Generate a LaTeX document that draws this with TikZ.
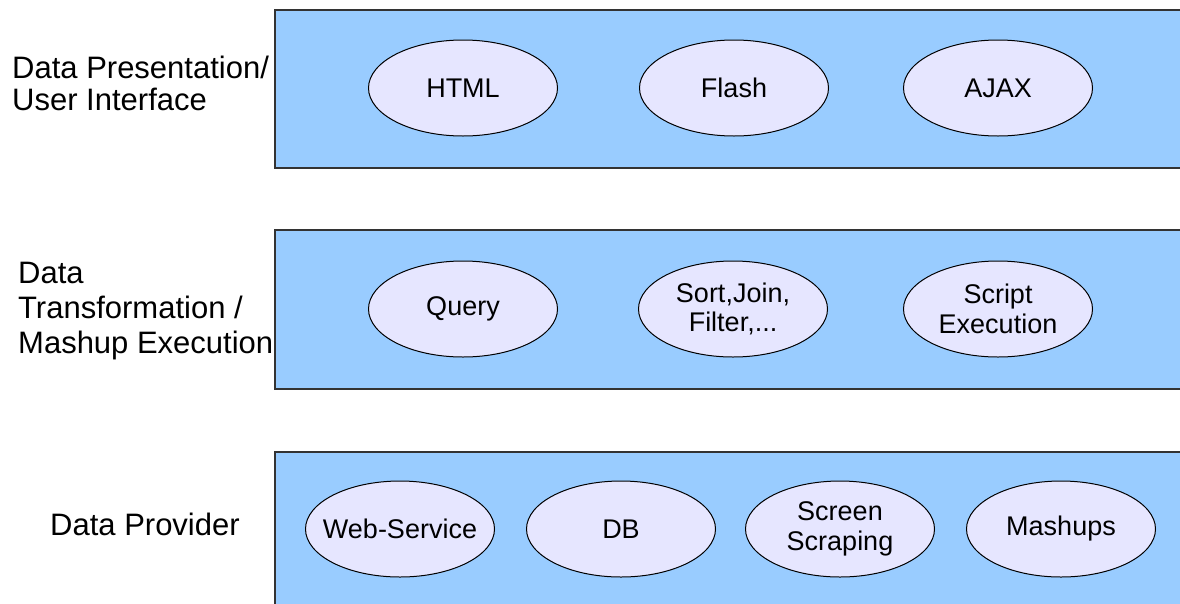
\documentclass[tikz,border=0pt]{standalone}
\usepackage{fontspec}
\setmainfont{Liberation Sans}
\usetikzlibrary{shapes.geometric}
\definecolor{layerblue}{HTML}{99CCFF}
\definecolor{bubble}{HTML}{E6E6FF}
\definecolor{frame}{HTML}{333333}
\begin{document}
\begin{tikzpicture}[x=1pt,y=-1pt,
  layer/.style={rectangle,fill=layerblue,draw=frame,line width=1.6pt,
    anchor=north west,inner sep=0pt,minimum width=920pt},
  tool/.style={ellipse,draw=black,line width=1pt,fill=bubble,
    minimum width=189pt,minimum height=96pt,inner ysep=0pt,inner xsep=-14pt,
    align=center,font=\fontsize{27}{29.5}\selectfont},
  caption/.style={anchor=west,align=left,inner sep=0pt,
    font=\fontsize{31}{35}\selectfont}]
\useasboundingbox (0,0) rectangle (1180,603);
\fill[white] (0,0) rectangle (1180,603);

% the three layers
\node[layer,minimum height=158pt] (present) at (274,9) {};
\node[layer,minimum height=159pt] (transform) at (274,229) {};
\node[layer,minimum height=170pt] (provider) at (274,451) {};

% layer captions
\node[caption,font=\fontsize{31}{32}\selectfont] (lpresent) at (12,83)
  {Data Presentation/\\User Interface};
\node[caption] (ltransform) at (18,311)
  {Data\\Transformation /\\Mashup Execution};
\node[caption] (lprovider) at (50,524) {Data Provider};

% presentation technologies
\node[tool] (html)  at (463,88) {HTML};
\node[tool] (flash) at (734,88) {Flash};
\node[tool] (ajax)  at (998,88) {AJAX};

% transformation steps
\node[tool] (query)  at (463,309) {Query};
\node[tool] (sort)   at (733,309) {Sort,Join,\\Filter,...};
\node[tool] (script) at (998,309) {Script\\Execution};

% data sources
\node[tool] (web)     at (400,529) {Web-Service};
\node[tool] (db)      at (621,529) {DB};
\node[tool] (scrape)  at (840,529) {Screen\\Scraping};
\node[tool] (mashups) at (1061,529) {Mashups};
\end{tikzpicture}
\end{document}
